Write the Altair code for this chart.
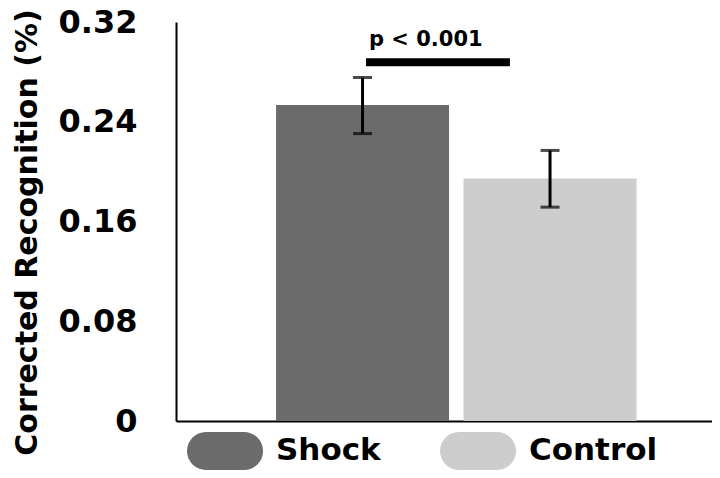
import altair as alt
import pandas as pd

groups = ["Shock", "Control"]
means = [0.2535, 0.1945]
err_low = [0.2305, 0.1715]
err_high = [0.2755, 0.2170]
colors = ["#6b6b6b", "#cdcdcd"]

y_ticks = [0, 0.08, 0.16, 0.24, 0.32]

sig_label = ["p < 0.001"]
sig_y = [0.2878]
sig_x0 = [0.3545]
sig_x1 = [0.623]
sig_text_x = [0.360]
sig_text_y = [0.3005]

FONT = "DejaVu Sans"

df = pd.DataFrame({"group": groups, "mean": means, "lo": err_low, "hi": err_high})
sig = pd.DataFrame({"label": sig_label, "y": sig_y, "x0": sig_x0, "x1": sig_x1,
                    "tx": sig_text_x, "ty": sig_text_y})

stadium = ("M-0.5,-0.5 L0.5,-0.5 A0.5,0.5 0 0 1 0.5,0.5 "
           "L-0.5,0.5 A0.5,0.5 0 0 1 -0.5,-0.5 Z")

xband = alt.X("group:N", sort=groups,
              scale=alt.Scale(paddingInner=0.0773, paddingOuter=0.468, align=0.570),
              axis=alt.Axis(labels=False, ticks=False, title=None, domainColor="black",
                            domainWidth=2))
yscale = alt.Scale(domain=[0, 0.32], nice=False, zero=True)
yaxis = alt.Axis(values=y_ticks, ticks=False, grid=False, domainColor="black", domainWidth=2,
                 labelFont=FONT, labelFontSize=32, labelFontWeight="bold", labelColor="black",
                 labelPadding=39,
                 labelExpr="datum.value == 0 ? '0' : format(datum.value, '.2f')",
                 title="Corrected Recognition (%)", titleFont=FONT, titleFontSize=30,
                 titleFontWeight="bold", titleColor="black", titleAngle=270,
                 titleBaseline="alphabetic", titleAlign="center", titleX=-140, titleY=210)

bars = alt.Chart(df).mark_bar().encode(
    x=xband,
    y=alt.Y("mean:Q", scale=yscale, axis=yaxis),
    color=alt.Color("group:N", sort=groups,
                    scale=alt.Scale(domain=groups, range=colors),
                    legend=alt.Legend(orient="none", legendX=11, legendY=391,
                                      direction="horizontal", title=None,
                                      symbolType=stadium, symbolSize=5776,
                                      symbolStrokeWidth=0, symbolOpacity=1,
                                      labelFont=FONT, labelFontSize=31,
                                      labelFontWeight="bold", labelColor="black",
                                      labelOffset=13, columnPadding=59, padding=0)),
)

err_rule = alt.Chart(df).mark_rule(color="black", strokeWidth=3).encode(
    x=alt.X("group:N", sort=groups),
    y=alt.Y("lo:Q", scale=yscale),
    y2="hi:Q",
)
cap_lo = alt.Chart(df).mark_tick(color="black", thickness=3, size=19).encode(
    x=alt.X("group:N", sort=groups),
    y=alt.Y("lo:Q", scale=yscale),
)
cap_hi = alt.Chart(df).mark_tick(color="black", thickness=3, size=19).encode(
    x=alt.X("group:N", sort=groups),
    y=alt.Y("hi:Q", scale=yscale),
)

base = alt.layer(bars, err_rule, cap_lo, cap_hi)

sig_line = alt.Chart(sig).mark_rule(color="black", strokeWidth=8).encode(
    x=alt.X("x0:Q", scale=alt.Scale(domain=[0, 1], nice=False, zero=False), axis=None),
    x2="x1:Q",
    y=alt.Y("y:Q", scale=yscale),
)
sig_text = alt.Chart(sig).mark_text(font=FONT, fontSize=21, fontWeight="bold",
                                    align="left", baseline="alphabetic",
                                    color="black").encode(
    x=alt.X("tx:Q", scale=alt.Scale(domain=[0, 1], nice=False, zero=False), axis=None),
    y=alt.Y("ty:Q", scale=yscale),
    text="label:N",
)
annot = alt.layer(sig_line, sig_text)

chart = alt.layer(base, annot).resolve_scale(x="independent").properties(
    width=536, height=399,
    autosize=alt.AutoSizeParams(type="none"),
    padding={"left": 168, "top": 14, "right": 0, "bottom": 49},
    background="white",
).configure_view(stroke=None)

chart.save("out.html", embed_options={"renderer": "svg", "actions": False})
